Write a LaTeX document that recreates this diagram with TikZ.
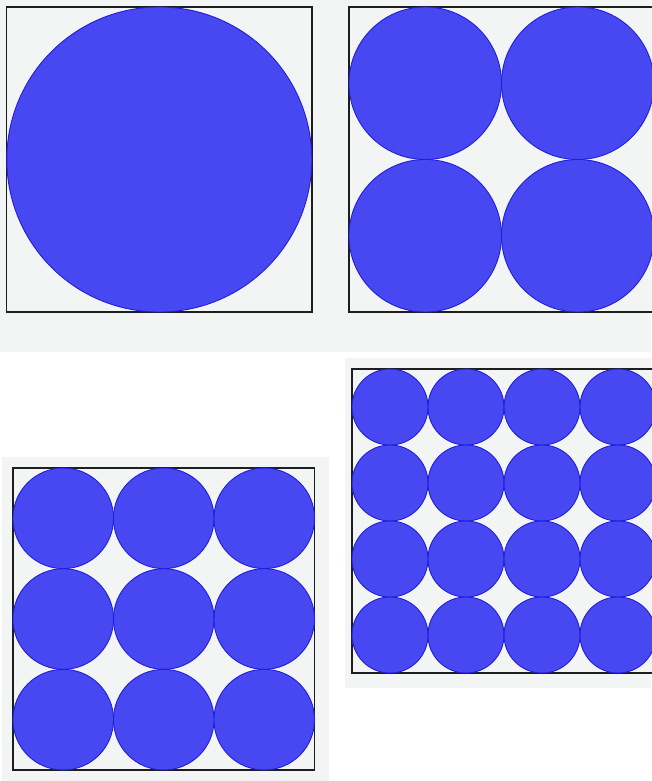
\documentclass[tikz,border=0pt]{standalone}
\usepackage{tikz}
\definecolor{panelbg}{RGB}{243,244,244}
\definecolor{discfill}{RGB}{72,72,242}
\definecolor{discline}{RGB}{30,30,220}
\definecolor{frameline}{RGB}{30,30,30}
\tikzset{
  panel/.style={fill=panelbg,draw=none},
  frame/.style={draw=frameline,line width=1.8pt,fill=panelbg},
  disc/.style={fill=discfill,draw=discline,line width=0.9pt}
}
\begin{document}
\begin{tikzpicture}[x=1pt,y=-1pt]
\useasboundingbox (0,0) rectangle (651,781);
\fill[white] (0,0) rectangle (651,781);
% panel backgrounds
\path[panel] (0,0) rectangle (651,352);
\path[panel] (2,457) rectangle (329,781);
\path[panel] (345,358) rectangle (651,688);
% top-left: 1 circle
\draw[frame] (6.5,7) rectangle (312,312);
\draw[disc] (159.3,159.5) circle [radius=152.5pt];
% top-right: 2x2
\draw[frame] (349,7) rectangle (654,312);
\foreach \i in {0,1}{
  \foreach \j in {0,1}{
    \draw[disc] ({349+76.25+152.5*\i},{7+76.25+152.5*\j}) circle [radius=76.25pt];
  }
}
% bottom-left: 3x3
\draw[frame] (13,468) rectangle (314.5,770);
\foreach \i in {0,1,2}{
  \foreach \j in {0,1,2}{
    \draw[disc] ({13+50.25+100.5*\i},{468+50.33+100.67*\j}) circle [radius=50.3pt];
  }
}
% bottom-right: 4x4
\draw[frame] (352,369) rectangle (656,673);
\foreach \i in {0,1,2,3}{
  \foreach \j in {0,1,2,3}{
    \draw[disc] ({352+38+76*\i},{369+38+76*\j}) circle [radius=38pt];
  }
}
\end{tikzpicture}
\end{document}
